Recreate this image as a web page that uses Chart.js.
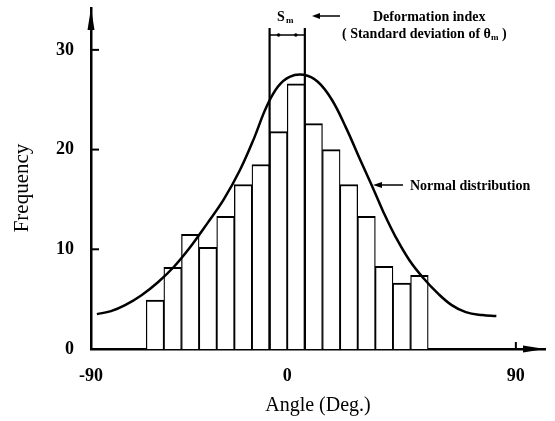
<!DOCTYPE html>
<html>
<head>
<meta charset="utf-8">
<script src="https://cdn.jsdelivr.net/npm/chart.js@4.4.0/dist/chart.umd.min.js"></script>
<style>
  html, body { margin: 0; padding: 0; background: #fff; }
</style>
</head>
<body>
<canvas id="myChart" width="555" height="421"></canvas>
<script>
// histogram bins in degrees (7.5 deg wide, -60 .. 60)
const binCenters = [-56.25, -48.75, -41.25, -33.75, -26.25, -18.75, -11.25, -3.75, 3.75, 11.25, 18.75, 26.25, 33.75, 41.25, 48.75, 56.25];
const frequency = [4.9, 8.2, 11.5, 10.2, 13.3, 16.5, 18.5, 21.8, 26.6, 22.6, 20.0, 16.5, 13.3, 8.3, 6.6, 7.4];

// normal distribution curve
const curveAngle = [-81, -75, -69, -62, -55, -48, -41, -34, -27, -20, -14, -9, -4, 1, 7, 13, 19, 25, 31, 36, 41, 46, 52, 58, 64, 70, 76, 83, 89];
const curveFreq = [3.5, 3.8, 4.4, 5.4, 6.7, 8.3, 10.3, 12.6, 15.0, 18.0, 21.2, 24.2, 26.3, 27.3, 27.5, 26.8, 25.0, 22.2, 19.0, 16.4, 13.7, 11.3, 8.9, 7.1, 5.6, 4.4, 3.7, 3.4, 3.3];

const yTicks = [0, 10, 20, 30];
const xTickLabels = ['-90', '0', '90'];
const xTickAt = [-83.5, 0, 97.3];   // where the labels sit on the drawn axis
const smEdges = [-7.5, 7.5];        // S_m bracket

const serif = '"Liberation Serif", "Times New Roman", serif';

function arrowHead(ctx, tx, ty, dx, dy, len, half) {
    // tip at (tx,ty), pointing in direction (dx,dy)
    const bx = tx - dx * len, by = ty - dy * len;
    ctx.beginPath();
    ctx.moveTo(tx, ty);
    ctx.lineTo(bx - dy * half, by + dx * half);
    ctx.lineTo(bx + dy * half, by - dx * half);
    ctx.closePath();
    ctx.fill();
}

function line(ctx, x1, y1, x2, y2) {
    ctx.beginPath();
    ctx.moveTo(x1, y1);
    ctx.lineTo(x2, y2);
    ctx.stroke();
}

const decor = {
    id: 'decor',
    afterDraw(chart) {
        const ctx = chart.ctx;
        const a = chart.chartArea;
        const x = chart.scales.x, y = chart.scales.y;
        ctx.save();
        ctx.fillStyle = '#000';
        ctx.strokeStyle = '#000';

        // axis arrows
        arrowHead(ctx, a.left, a.top, 0, -1, 22, 3.5);
        arrowHead(ctx, a.right, a.bottom, 1, 0, 22, 3.5);

        // inward y ticks
        ctx.lineWidth = 2;
        for (const v of yTicks.slice(1)) {
            const py = y.getPixelForValue(v);
            line(ctx, a.left, py, a.left + 8, py);
        }
        // small mark at 90
        const p90 = x.getPixelForValue(xTickAt[2]);
        line(ctx, p90, a.bottom, p90, a.bottom - 7);

        // S_m bracket
        const l = x.getPixelForValue(smEdges[0]);
        const r = x.getPixelForValue(smEdges[1]);
        ctx.lineWidth = 2.2;
        line(ctx, l, 28, l, a.bottom);
        line(ctx, r, 28, r, a.bottom);
        ctx.lineWidth = 1.5;
        line(ctx, l, 35, r, 35);
        ctx.beginPath(); ctx.arc(l + 9, 35, 1.8, 0, Math.PI * 2); ctx.fill();
        ctx.beginPath(); ctx.arc(r - 9, 35, 1.8, 0, Math.PI * 2); ctx.fill();

        // annotations
        ctx.textBaseline = 'alphabetic';
        ctx.textAlign = 'left';
        ctx.font = 'bold 14px ' + serif;
        ctx.fillText('S', 277, 21);
        ctx.font = 'bold 9px ' + serif;
        ctx.fillText('m', 286, 23);

        ctx.lineWidth = 1.5;
        line(ctx, 318, 16, 340, 16);
        arrowHead(ctx, 312, 16, -1, 0, 8, 3);

        ctx.font = 'bold 14px ' + serif;
        ctx.fillText('Deformation index', 373, 21);

        let t = '( Standard deviation of \u03b8';
        ctx.fillText(t, 342, 38);
        let w = ctx.measureText(t).width;
        ctx.font = 'bold 9px ' + serif;
        ctx.fillText('m', 342 + w, 40);
        let w2 = ctx.measureText('m').width;
        ctx.font = 'bold 14px ' + serif;
        ctx.fillText(' )', 342 + w + w2, 38);

        ctx.fillText('Normal distribution', 410, 190);
        line(ctx, 380, 185, 403, 185);
        arrowHead(ctx, 373, 185, -1, 0, 9, 3);

        // y title
        ctx.save();
        ctx.translate(22, 188);
        ctx.rotate(-Math.PI / 2);
        ctx.textAlign = 'center';
        ctx.textBaseline = 'middle';
        ctx.font = '21px ' + serif;
        ctx.fillText('Frequency', 0, 0);
        ctx.restore();

        ctx.restore();
    }
};

const ctx = document.getElementById('myChart');

new Chart(ctx, {
    type: 'bar',
    data: {
        datasets: [{
            type: 'line',
            label: 'Normal distribution',
            data: curveAngle.map((a, i) => ({ x: a, y: curveFreq[i] })),
            borderColor: '#000',
            borderWidth: 2.5,
            pointRadius: 0,
            tension: 0.4,
            fill: false,
        }, {
            label: 'Frequency',
            data: binCenters.map((c, i) => ({ x: c, y: frequency[i] })),
            backgroundColor: '#fff',
            borderColor: '#000',
            borderWidth: { top: 2, left: 1.3, right: 1.3, bottom: 0 },
            borderSkipped: false,
            barPercentage: 1,
            categoryPercentage: 1,
        }]
    },
    options: {
        responsive: false,
        animation: false,
        layout: { padding: { top: 8, right: 10, left: 0, bottom: 0 } },
        plugins: {
            legend: { display: false },
            tooltip: { enabled: false }
        },
        scales: {
            x: {
                type: 'linear',
                offset: false,
                min: -83.5,
                max: 109.7,
                afterBuildTicks: (s) => { s.ticks = xTickAt.map(v => ({ value: v })) },
                afterFit: (s) => { s.height = 72; s.paddingLeft = 0; s.paddingRight = 0 },
                grid: { display: false, drawTicks: false, offset: false },
                border: { display: true, color: '#000', width: 2.5 },
                ticks: {
                    color: '#000',
                    padding: 17,
                    maxRotation: 0,
                    autoSkip: false,
                    font: { family: serif, size: 18, weight: 'bold' },
                    callback: (v, i) => xTickLabels[i]
                },
                title: {
                    display: true,
                    text: 'Angle (Deg.)',
                    color: '#000',
                    font: { family: serif, size: 20, lineHeight: 1.1 }
                }
            },
            y: {
                min: 0,
                max: 34.2,
                afterBuildTicks: (s) => { s.ticks = yTicks.map(v => ({ value: v })) },
                afterFit: (s) => { s.width = 91; s.paddingTop = 0; s.paddingBottom = 0 },
                grid: { display: false, drawTicks: false },
                border: { display: true, color: '#000', width: 2.5 },
                ticks: {
                    color: '#000',
                    padding: 17,
                    font: { family: serif, size: 18, weight: 'bold' }
                }
            }
        }
    },
    plugins: [decor]
});
</script>
</body>
</html>
